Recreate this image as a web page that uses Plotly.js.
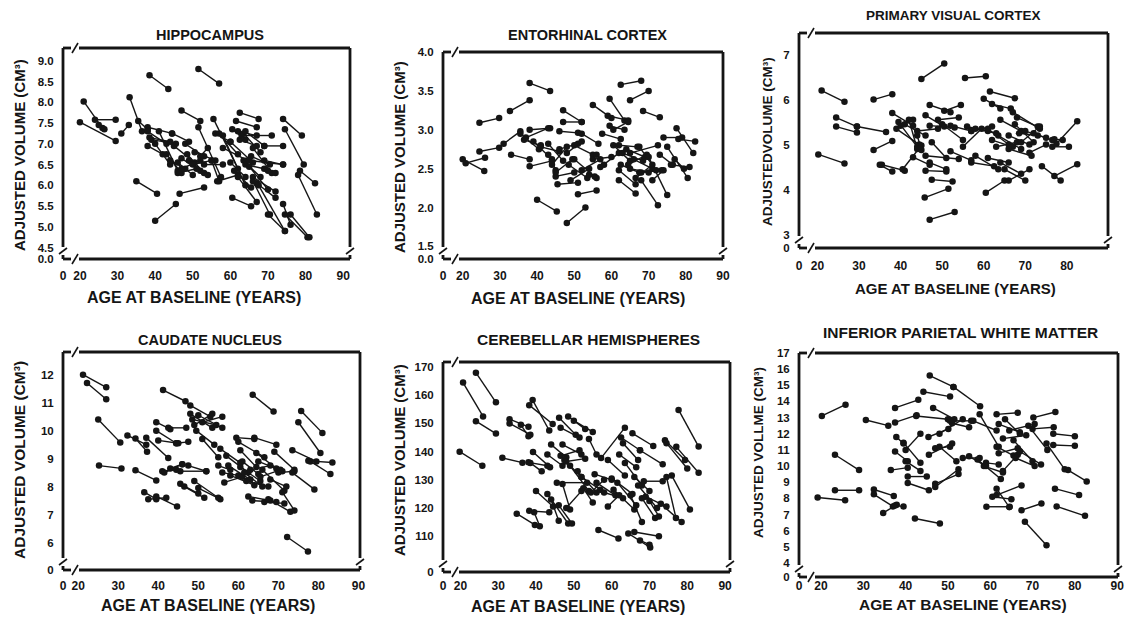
<!DOCTYPE html>
<html><head><meta charset="utf-8">
<script src="https://cdn.plot.ly/plotly-3.0.1.min.js"></script>
<style>html,body{margin:0;padding:0;background:#fff}#chart{width:1129px;height:624px}</style>
</head><body><div id="chart"></div>
<script>
// ---------- DATA (baseline age/volume -> follow-up age/volume) ----------
const ageTicks = [20,30,40,50,60,70,80,90];
const ageLabels = ['20','30','40','50','60','70','80','90'];

const hipYTicks = [4.5,5,5.5,6,6.5,7,7.5,8,8.5,9];
const hipYLabels = ['4.5','5.0','5.5','6.0','6.5','7.0','7.5','8.0','8.5','9.0'];
const hipAge0 = [21,20,24,25,31,33.2,35.5,38.5,51.5,47,38,38,38.5,38,39,40,41,43,44,45,46,47,48,48.5,49,50,50.5,51.5,52,47,46,53,55,56.5,56,55.5,58,58,60,60.5,61.5,62.5,62,62.5,63,63.5,64,60,61,62,63.5,64,65,65.5,66,66,67,65,67.5,66,69,69,70,74,74.5,78.5,78,74,74.5,70,76,60.5,35,40,46.5,44.5,57];
const hipVol0 = [8.02,7.52,7.58,7.45,7.25,8.12,7.55,8.65,8.8,7.8,7.4,7.3,7.15,6.95,7.1,7.0,7.3,6.75,6.6,6.95,6.55,6.65,7.0,6.75,6.6,6.5,6.8,7.4,6.7,6.4,6.3,6.5,6.6,6.1,7.25,7.6,7.2,6.9,7.05,7.35,7.55,7.75,7.3,7.1,7.2,7.25,7.3,6.55,6.35,6.2,6.6,6.5,6.45,6.7,6.9,6.2,6.05,6.6,6.0,6.1,6.95,6.6,6.35,7.6,7.35,6.35,6.25,5.55,5.3,5.3,5.3,5.7,6.1,5.15,5.8,7.25,7.25];
const hipAge1 = [26,29.5,29.5,26.5,33,36.5,38,43.5,57,52,44.5,43,44,42,45.5,44,46,47,48,50.5,50,52,53,53,54,55,56,57.5,54,52,51,58,57,62,60,62,64,64.5,66,64,67,67.5,67,67,71,68,69,64,65.5,67,68,69,70,70.5,71,72,72,74,74.5,70.5,74,74,72,79,79.5,82.5,83,76,80.5,74.5,81,65.5,40.5,45.5,53,49,62];
const hipVol1 = [7.38,7.07,7.58,7.35,7.45,7.3,7.35,8.32,8.45,7.55,7.25,7.0,7.05,6.75,7.0,6.5,6.35,6.3,6.4,6.55,6.25,6.35,6.7,6.3,6.25,6.6,6.6,6.2,6.9,6.6,6.4,6.5,6.1,6.25,7.05,6.4,6.0,6.6,6.55,7.1,7.4,7.6,7.2,6.95,7.2,6.8,6.95,6.2,5.95,5.6,6.2,6.4,5.9,6.5,6.3,5.85,5.7,6.5,4.9,5.3,6.95,6.5,6.3,7.2,6.5,6.05,5.3,5.05,4.75,4.9,4.75,5.5,5.8,5.55,5.95,7.05,6.75];

const entYTicks = [1.5,2,2.5,3,3.5,4];
const entYLabels = ['1.5','2.0','2.5','3.0','3.5','4.0'];
const entAge0 = [20,20.8,24.5,24.5,31,32.7,38,33,35.5,38,38,36.5,39,40,41,37,43,44,45,45.5,46,47,47,46,48,48,51,48.5,49,50,50,52,55,55,56,57.5,59.5,59,59.5,60.5,57,62.5,65,68.5,60.5,62,62.5,62,62,63,64,64.5,65,65,66,66.5,67.5,68,68,70,71,73,74,75,76,77.5,78,77,54,52,43,45];
const entVol0 = [2.62,2.57,3.09,2.72,2.82,3.24,3.60,2.68,2.95,3.00,2.53,2.87,2.85,2.10,2.78,2.90,2.68,2.55,2.40,2.30,2.75,3.25,3.10,2.98,2.70,1.80,2.17,2.55,2.35,2.62,2.80,2.95,3.32,2.62,2.68,2.95,3.40,3.18,3.05,2.80,2.52,3.58,3.38,3.24,3.00,2.80,2.55,2.48,2.35,2.70,2.75,2.55,2.50,2.70,2.62,2.38,2.78,2.45,2.35,2.65,2.35,2.68,2.90,2.78,2.55,3.02,2.88,2.62,2.42,2.48,2.82,2.45];
const entAge1 = [25.8,26,29.8,29.8,35.5,38,43.5,38,40.5,43.5,44,41,44,45.3,46,43,45,48,50,51,51,52,52,51,52,53,56,53.5,54,55.5,55,56.5,60,60,58,62.5,63.5,64.5,63.5,65,62,68,70,73,64.5,67,67.5,66.5,66.5,68.5,69,69.5,70,72.5,71,71,72,73.5,72.5,75,74,76.5,79,80.5,81,82,82.5,79.5,56,57,47,49.5];
const entVol1 = [2.47,2.64,3.15,2.77,2.98,3.38,3.50,2.62,2.75,3.02,2.60,2.80,2.62,1.95,2.72,3.02,2.48,2.78,2.45,2.32,2.82,3.10,3.10,2.96,2.85,2.00,2.22,2.38,2.50,2.40,2.68,2.82,3.15,2.65,2.55,2.88,3.12,3.12,3.00,2.60,2.70,3.63,3.50,3.16,3.10,2.78,2.45,2.30,2.18,2.60,2.65,2.68,2.45,2.80,2.50,2.55,2.48,2.48,2.03,2.16,2.48,2.55,2.90,2.38,2.52,2.70,2.85,2.50,2.38,2.62,2.60,2.62];

const visYTicks = [3,4,5,6,7];
const visYLabels = ['3','4','5','6','7'];
const visAge0 = [21,20.2,24.5,24.5,29.5,33.5,33.5,35.5,35,38,39,39.5,40,40.5,41,42,43,44,45,47,46,50.5,47,47.5,46,47,47.5,46,45.8,47,49,50,52,55.5,56,57,55,57,58,60.5,60,61.5,62,61,62,63,63.5,64,65,66,64,66,67,67.5,68,68.5,69,70,71,72,74,76.5,77,77.5,77,61,58,52,44,66];
const visVol0 = [6.2,4.78,5.6,5.4,5.4,6.0,4.88,4.55,4.55,5.7,5.35,5.5,5.42,4.45,5.45,5.55,4.72,5.2,6.46,5.88,5.65,5.75,5.42,5.05,4.75,4.6,4.22,4.42,3.82,3.33,5.55,5.45,5.42,6.48,5.4,5.3,4.95,4.6,4.75,3.93,6.02,6.18,5.9,5.35,5.1,4.95,5.2,5.55,4.45,4.2,4.6,5.2,5.72,5.45,5.6,5.25,5.05,5.3,4.82,5.25,4.52,4.95,5.12,5.02,4.3,4.7,5.35,4.85,5.3,4.9];
const visAge1 = [26.5,26.5,29.5,29.5,36.5,38,38,41,38,43,44.5,44,43,45,46,44,47,45,50.5,52,50.5,54.5,53,51,54,51,52.5,51,51.5,53,54,55,57,60.5,61,62,59.5,62.5,63.5,65,64,67.5,66.5,66,67,68,69,69,70,71,69,71,73.5,72,73,73,73.5,75,75,76.5,78.5,80.5,79,82.5,82.5,66,63,57,49,71.5];
const visVol1 = [5.95,4.58,5.4,5.27,5.28,6.12,5.08,4.42,4.4,5.42,5.0,4.95,5.55,4.98,5.2,4.9,4.55,4.88,6.8,5.72,5.4,5.88,5.38,4.7,4.68,4.45,4.18,4.4,4.02,3.5,5.6,5.1,5.3,6.52,5.3,5.4,5.35,4.52,4.45,4.2,5.8,6.03,5.8,5.0,4.95,5.05,4.9,5.3,4.2,4.45,4.35,5.0,5.35,5.05,5.4,5.2,5.4,5.15,5.0,5.1,4.2,4.95,5.1,5.52,4.56,4.6,5.25,4.65,5.35,4.75];

const cauYTicks = [6,7,8,9,10,11,12];
const cauYLabels = ['6','7','8','9','10','11','12'];
const cauAge0 = [21.2,22.2,25,25.2,32.3,34.3,37,34.3,36.5,39.5,37.5,39.5,39.5,40,41.2,41,41.5,42.5,44.5,45.5,45.5,46.5,49,47.5,48,48,48.5,49,49.5,50,51,51,50,55.5,56,56.5,57,57.5,59.5,60,60.5,63.6,61,61.5,62,62.5,63.5,64,64.5,65,66,66.5,67.5,69,70,68,72.2,73.5,75.7,75,77.5,78,73.5,71,60.5,58,63,65.5,43,55];
const cauVol0 = [12.0,11.7,10.4,8.75,9.83,9.72,9.75,8.58,7.8,7.65,7.55,10.3,10.0,9.65,11.45,8.55,8.5,10.1,9.55,8.55,8.1,8.0,8.2,8.75,10.9,10.6,10.4,10.2,10.0,10.55,9.7,10.3,7.95,9.35,8.5,8.15,9.1,8.75,9.75,9.6,9.3,11.28,8.9,8.5,8.2,7.65,7.5,9.75,9.2,8.9,8.6,7.45,7.55,9.25,8.5,8.25,6.2,9.3,10.7,10.3,8.92,8.9,8.5,7.8,8.7,8.4,8.6,8.35,8.65,8.75];
const cauAge1 = [27,27,30.5,30.8,37,37.2,42.5,39.5,39.5,44.7,42,43,44.5,45,46.8,44.5,46,47,47.5,52,50,51.5,55,52,53,53.5,54.5,53.5,54,56,55,56,55.5,60.5,60,61,62.5,63,64,66.5,64.5,68.8,65,66,67.5,68,69.5,69.5,69.5,71,71.5,71.5,73,74,74,72,77.4,79.5,81,80.5,83.5,83,79,74,65.5,64,68,70.5,46,58];
const cauVol1 = [11.55,11.12,9.58,8.65,9.5,9.25,9.02,8.22,7.55,7.29,7.6,10.05,9.55,9.55,11.05,8.6,8.8,10.1,9.6,8.55,7.75,7.6,7.6,8.55,10.5,10.1,10.2,10.6,9.5,10.1,9.05,10.5,7.55,8.85,8.4,8.35,8.5,8.25,9.7,9.05,8.7,10.68,8.45,8.0,8.0,7.5,7.45,9.5,8.65,8.55,7.85,7.4,7.1,8.6,8.55,8.0,5.68,8.9,9.92,9.2,8.86,8.45,7.9,7.15,8.2,8.05,8.75,8.6,8.8,8.6];

const cerYTicks = [110,120,130,140,150,160,170];
const cerYLabels = ['110','120','130','140','150','160','170'];
const cerAge0 = [20.7,24.1,24.1,19.8,31.1,33,33,36,39.1,38.2,38,39.2,38.5,34.9,38.2,39.5,40,43,44,43,44,46.1,46.5,48.5,50,47,46.5,47.5,48,45.5,49,47,46,48,51,52.5,52,56.5,57.2,54,55.5,56,58,59,60,60.5,61.5,62,62.5,63,63.5,64.4,66,65.5,65,66,67,67.5,68,68.5,69,70,74.1,74.5,74.5,75.9,73,77.7,77.1,67.5,59,54.5];
const cerVol0 = [164.5,168,150.8,140,137.8,151.5,150,149.5,158.3,156.5,136.2,139.9,136,118,119,118.5,126,125,123,139,142.5,152,148.5,152.5,151,142.5,138.5,137,136.5,129,135,128.5,121,120,133,127,131,112.2,137.7,144.5,132,129,125.5,137,130.5,126.5,129,139,145,143,136,111,111.5,146.5,124.5,131,128,140.5,123.5,129.5,124,122.5,144,143,131,131.5,121.5,154.8,141.7,108.5,120.5,125.5];
const cerAge1 = [26,29.4,29.4,25.8,36.4,38,38.5,38,43.5,44.4,43,43.7,41.5,39.7,43.5,41,44.5,48.5,46,47,48,50.5,51.5,53,55,52,51.5,52,53,53.5,54,49,49.5,52,56,55,57,61.8,63.5,56,60,61,63,63.5,65.5,66,66.5,66.5,67.5,67,68,70.2,72.5,71,68,70,72,73.5,71.5,73.5,74.5,72.5,79.4,80,77,80.7,78.5,83,83,70,62,58];
const cerVol1 = [152.5,157.5,146.4,135,136.1,148.8,146,145.5,147.5,149.8,135,134.5,133,114,118.5,113.5,120.5,114.5,115.5,135,138,146,145,148,147,139,140.5,131,137.5,129,126,119.5,114.5,126,125.5,122,126.5,109.2,148.5,139,130,124.5,123.5,131.5,125,119.5,121,134.5,140.5,137,128,106,110,142,115,126,120,135.5,116.5,129.5,120.5,117,137,134,116.5,119.5,115,141.8,132.5,107,124.5,130];

const parYTicks = [4,5,6,7,8,9,10,11,12,13,14,15,16,17];
const parYLabels = ['4','5','6','7','8','9','10','11','12','13','14','15','16','17'];
const parAge0 = [20.2,19.2,23.3,23.3,30.6,32.5,32.5,34.7,37.5,37.5,37.5,37.8,39.5,37.5,36.5,40,40.5,40.5,42.2,42.5,40,44.2,45.7,46.5,45.4,45.5,47,47,47,48,48,51,50.5,53.5,51.3,56,57.5,58.5,59,59.1,61.5,61.5,60.5,61.5,62,61.5,62,63,63.5,64.5,63,65.5,67.4,68.2,66,67,69,70.2,70,73.3,74.9,74.9,75.3,75.7,78.4,55,57];
const parVol0 = [13.1,8.05,10.7,8.5,12.85,8.55,8.25,7.1,7.55,13.6,12.7,11.8,11.45,10.9,9.75,10.3,9.35,8.95,6.75,13.1,11.0,14.6,15.6,13.6,11.8,10.7,11.1,8.7,8.9,12.0,11.2,12.65,12.8,10.5,14.9,12.8,13.2,10.0,10.2,7.48,8.2,8.6,8.1,13.2,12.6,11.2,10.8,11.7,12.9,12.2,9.7,11.6,7.27,6.55,10.5,10.9,12.5,13.0,12.3,11.4,12.0,11.3,8.6,7.5,9.75,10.6,10.4];
const parAge1 = [25.8,25.7,29,29,35.9,37.2,37,37.9,39.5,43,42.6,39.5,43.5,40.5,40.5,43.5,45,45.5,48.1,50,43.5,50.5,51.3,51.5,50.1,51,50.5,52.5,52.5,53.5,52,55,55.5,57.5,57.6,61.5,62,63,62,64.6,67.4,64.5,65,66.5,67,65.5,66.5,68.5,67,70.5,66.5,70,72.1,73.3,70.5,72,73.5,75.4,75,77.6,80,80,81,82.4,82.8,59,62.5];
const parVol1 = [13.8,7.88,9.75,8.5,12.5,8.15,7.5,7.6,7.5,14.1,13.15,11.4,10.2,10.3,9.9,9.7,9.35,8.5,6.44,12.9,12.0,14.3,14.9,12.9,12.3,11.4,11.2,9.8,9.5,12.9,10.3,12.4,12.8,10.5,13.7,12.2,11.2,9.6,10.1,7.48,8.8,7.45,7.95,13.3,12.1,10.65,11.1,11.9,12.0,12.6,10.7,10.3,7.68,5.1,10.0,10.1,11.0,13.35,12.4,9.8,11.85,11.25,8.2,6.92,9.05,10.0,9.2];

// ---------- LAYOUT ----------
const W = 1129, H = 624;
const INK = '#151515';
const FONT = 'Liberation Sans, Arial, Helvetica, sans-serif';

const panels = [
  {title:'HIPPOCAMPUS', a0:hipAge0, v0:hipVol0, a1:hipAge1, v1:hipVol1, yt:hipYTicks, ytl:hipYLabels, yz:'0.0',
   box:[63,48,350,259], xr:[15.5,91.8], yr:[4.228,9.306], xtl:6, tpos:[210,35,14.5], xtp:[194,297,16], ytp:[19,155,15], ylab:'ADJUSTED VOLUME (CM³)'},
  {title:'ENTORHINAL CORTEX', a0:entAge0, v0:entVol0, a1:entAge1, v1:entVol1, yt:entYTicks, ytl:entYLabels, yz:'0.0',
   box:[443,52,723,259], xr:[14.7,90.0], yr:[1.338,4.0], xtl:6, tpos:[587,35,14.5], xtp:[578,298,16], ytp:[399,157,15], ylab:'ADJUSTED VOLUME (CM³)'},
  {title:'PRIMARY VISUAL CORTEX', a0:visAge0, v0:visVol0, a1:visAge1, v1:visVol1, yt:visYTicks, ytl:visYLabels, yz:'0',
   box:[799,33,1108,248], xr:[15.56,89.9], yr:[2.70,7.48], xtl:6.5, tpos:[953,15,13.5], xtp:[956,288,15], ytp:[768,142,13.5], ylab:'ADJUSTEDVOLUME (CM³)'},
  {title:'CAUDATE NUCLEUS', a0:cauAge0, v0:cauVol0, a1:cauAge1, v1:cauVol1, yt:cauYTicks, ytl:cauYLabels, yz:'0',
   box:[63,352,360,570], xr:[16.2,90.4], yr:[5.02,12.81], xtl:4.5, tpos:[210,340,14.5], xtp:[208,605,16], ytp:[19,460,15.5], ylab:'ADJUSTED VOLUME (CM³)'},
  {title:'CEREBELLAR HEMISPHERES', a0:cerAge0, v0:cerVol0, a1:cerAge1, v1:cerVol1, yt:cerYTicks, ytl:cerYLabels, yz:'0',
   box:[443,362,730,572], xr:[15.4,91.3], yr:[97.3,171.8], xtl:3, tpos:[588,340,15.5], xtp:[578,606,16], ytp:[399,460,15], ylab:'ADJUSTED VOLUME (CM³)'},
  {title:'INFERIOR PARIETAL WHITE MATTER', a0:parAge0, v0:parVol0, a1:parAge1, v1:parVol1, yt:parYTicks, ytl:parYLabels, yz:'0',
   box:[799,353,1118,577], xr:[14.8,90.2], yr:[3.13,17.0], xtl:0, tpos:[960,332,15.5], xtp:[963,604,15.5], ytp:[758,453,13.5], ylab:'ADJUSTED VOLLME (CM³)'}
];

const px = x => x / W, py = y => 1 - y / H;
function seg(x0,y0,x1,y1,w){
  return {type:'line', xref:'paper', yref:'paper', x0:px(x0), y0:py(y0), x1:px(x1), y1:py(y1),
          line:{color:INK, width:w}, layer:'above'};
}

const traces = [], shapes = [], annotations = [];
const layout = {
  width:W, height:H, margin:{l:0,r:0,t:0,b:0}, paper_bgcolor:'#fff', plot_bgcolor:'#fff',
  showlegend:false, font:{family:FONT, color:INK}
};

panels.forEach((p,i)=>{
  const n = i+1, s = n===1 ? '' : String(n);
  const [L,T,R,B] = p.box;
  layout['xaxis'+s] = {
    domain:[px(L), px(R)], range:p.xr, anchor:'y'+s, fixedrange:true,
    tickmode:'array', tickvals:[p.xr[0]+0.01].concat(ageTicks), ticktext:['0'].concat(ageLabels),
    showgrid:false, zeroline:false, showline:false, ticks: p.xtl>0 ? 'outside' : '', ticklen:p.xtl, tickcolor:'rgba(0,0,0,0)',
    tickfont:{family:FONT, size:12, color:INK, weight:'bold'}
  };
  layout['yaxis'+s] = {
    domain:[py(B), py(T)], range:p.yr, anchor:'x'+s, fixedrange:true,
    tickmode:'array', tickvals:[p.yr[0]+(p.yr[1]-p.yr[0])*0.0005].concat(p.yt), ticktext:[p.yz].concat(p.ytl),
    showgrid:false, zeroline:false, showline:false, ticks:'outside', ticklen:6, tickcolor:'rgba(0,0,0,0)',
    tickfont:{family:FONT, size:11.5, color:INK, weight:'bold'}
  };
  const xs = [], ys = [];
  for (let k=0; k<p.a0.length; k++){
    xs.push(p.a0[k], p.a1[k], null);
    ys.push(p.v0[k], p.v1[k], null);
  }
  traces.push({type:'scatter', mode:'lines+markers', x:xs, y:ys, xaxis:'x'+s, yaxis:'y'+s,
    connectgaps:false, hoverinfo:'skip', cliponaxis:false,
    line:{color:INK, width:1.4}, marker:{color:INK, size:6.5, line:{width:0}}});

  // frame with axis-break marks
  const bx = L + 12, by = B - 8, g = 4, w = 2.8;
  shapes.push(seg(L,T,bx-g,T,w), seg(bx+g,T,R,T,w));
  shapes.push(seg(L,B,bx-g,B,w), seg(bx+g,B,R,B,w));
  shapes.push(seg(L,T,L,by-g,w), seg(L,by+g,L,B,w));
  shapes.push(seg(R,T,R,by-g,w), seg(R,by+g,R,B,w));
  shapes.push(seg(bx-3,T+5,bx+3,T-5,1.6), seg(bx-3,B+5,bx+3,B-5,1.6));
  shapes.push(seg(L-4,by+3,L+4,by-3,1.6), seg(R-4,by+3,R+4,by-3,1.6));

  annotations.push({xref:'paper', yref:'paper', x:px(p.tpos[0]), y:py(p.tpos[1]), text:'<b>'+p.title+'</b>',
    showarrow:false, xanchor:'center', yanchor:'middle', font:{family:FONT, size:p.tpos[2], color:INK}});
  annotations.push({xref:'paper', yref:'paper', x:px(p.xtp[0]), y:py(p.xtp[1]), text:'<b>AGE AT BASELINE (YEARS)</b>',
    showarrow:false, xanchor:'center', yanchor:'middle', font:{family:FONT, size:p.xtp[2], color:INK}});
  annotations.push({xref:'paper', yref:'paper', x:px(p.ytp[0]), y:py(p.ytp[1]), text:'<b>'+p.ylab+'</b>', textangle:-90,
    showarrow:false, xanchor:'center', yanchor:'middle', font:{family:FONT, size:p.ytp[2], color:INK}});
});

layout.shapes = shapes;
layout.annotations = annotations;
Plotly.newPlot('chart', traces, layout, {staticPlot:true, displayModeBar:false});
</script>
</body></html>
